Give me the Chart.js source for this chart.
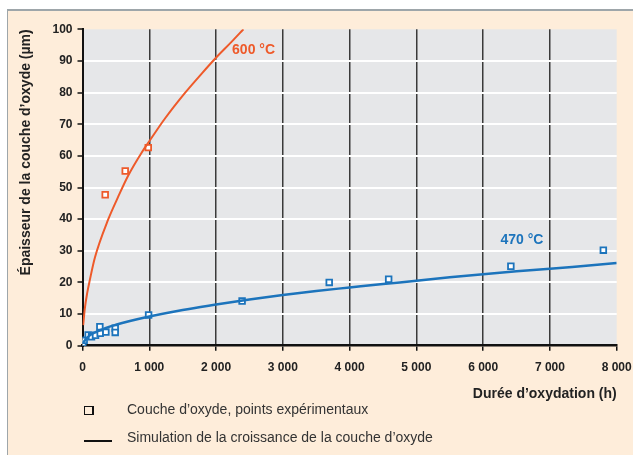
<!DOCTYPE html>
<html>
<head>
<meta charset="utf-8">
<script src="https://cdn.jsdelivr.net/npm/chart.js@4"></script>
<style>
  html, body { margin: 0; padding: 0; background: #ffffff; width: 633px; height: 455px; overflow: hidden; }
  #frame { position: absolute; left: 7px; top: 9px; right: 0; bottom: 0; background: #FEEDDA;
           border-left: 1px solid #9EA6AA; border-top: 2px solid #9EA6AA; }
  #c { position: absolute; left: 0; top: 0; }
  .lg { position: absolute; font-family: "Liberation Sans", Arial, sans-serif; font-size: 14px; color: #333; white-space: nowrap; }
  .sq { position: absolute; left: 84px; top: 406px; width: 7px; height: 7px; border: 1.5px solid #111; border-right-width: 2.5px; box-sizing: content-box; }
  .ln { position: absolute; left: 84px; top: 440px; width: 28px; height: 2px; background: #111; }
</style>
</head>
<body>
<div id="frame"></div>
<canvas id="c" width="633" height="455"></canvas>
<div class="sq"></div>
<div class="lg" style="left:127px; top:401px;">Couche d’oxyde, points expérimentaux</div>
<div class="ln"></div>
<div class="lg" style="left:127px; top:429px;">Simulation de la croissance de la couche d’oxyde</div>
<script>
// ---- Data ----
const xTickValues = [0, 1000, 2000, 3000, 4000, 5000, 6000, 7000, 8000];
const xTickLabels = ['0', '1 000', '2 000', '3 000', '4 000', '5 000', '6 000', '7 000', '8 000'];
const yTickValues = [0, 10, 20, 30, 40, 50, 60, 70, 80, 90, 100];

// 600 °C experimental points
const exp600T = [340, 640, 985];
const exp600E = [47.7, 55.2, 62.6];
// 600 °C simulated curve
const sim600T = [10, 35, 70, 110, 185, 385, 535, 685, 885, 1000, 1235, 1535, 1785, 1985, 2235, 2410];
const sim600E = [6.5, 11.8, 16.6, 20.8, 27.8, 39.9, 47.1, 53.8, 61.0, 64.6, 71.8, 79.9, 86.0, 90.7, 96.1, 100];

// 470 °C experimental points
const exp470T = [5, 25, 85, 135, 195, 260, 265, 350, 490, 490, 990, 2390, 3695, 4585, 6415, 7800];
const exp470E = [0.8, 1.7, 3.4, 2.8, 3.3, 6.0, 3.9, 4.3, 5.5, 4.2, 9.7, 14.1, 20.0, 21.0, 25.1, 30.2];
// 470 °C simulated curve
const sim470T = [0, 100, 250, 500, 1000, 1500, 2000, 2500, 3000, 3500, 4000, 4500, 5000, 5500, 6000, 6500, 7000, 7500, 8000];
const sim470E = [0.8, 3.1, 4.8, 6.6, 9.2, 11.3, 13.0, 14.6, 16.0, 17.3, 18.4, 19.5, 20.5, 21.6, 22.6, 23.5, 24.3, 25.2, 26.1];

// Series labels and their anchor (data coordinates)
const seriesNames = ['600 °C', '470 °C'];
const seriesLabelAt = [[2240, 93.5], [6260, 33.4]];

const xTitle = 'Durée d’oxydation (h)';
const yTitle = 'Épaisseur de la couche d’oxyde (µm)';

const ORANGE = '#EE5A2A';
const BLUE = '#1C74BC';

const pts = (xs, ys) => xs.map((x, i) => ({ x: x, y: ys[i] }));

const plotBg = {
  id: 'plotBg',
  beforeDraw(chart) {
    const { ctx, chartArea: a } = chart;
    ctx.save();
    ctx.fillStyle = '#E6E7E9';
    ctx.fillRect(a.left, a.top, a.right - a.left, a.bottom - a.top);
    ctx.restore();
  }
};

const seriesLabels = {
  id: 'seriesLabels',
  afterDatasetsDraw(chart) {
    const { ctx, scales } = chart;
    const colors = [ORANGE, BLUE];
    ctx.save();
    ctx.font = 'bold 14px "Liberation Sans", Arial, sans-serif';
    ctx.textAlign = 'left';
    ctx.textBaseline = 'middle';
    seriesNames.forEach((n, i) => {
      ctx.fillStyle = colors[i];
      ctx.fillText(n, scales.x.getPixelForValue(seriesLabelAt[i][0]), scales.y.getPixelForValue(seriesLabelAt[i][1]));
    });
    ctx.restore();
  }
};

const tickFont = { family: '"Liberation Sans", Arial, sans-serif', size: 12, weight: 'bold' };

new Chart(document.getElementById('c'), {
  type: 'scatter',
  data: {
    datasets: [
      { type: 'line', data: pts(sim600T, sim600E), borderColor: ORANGE, borderWidth: 2, pointRadius: 0, cubicInterpolationMode: 'monotone', fill: false },
      { type: 'line', data: pts(sim470T, sim470E), borderColor: BLUE, borderWidth: 2.5, pointRadius: 0, cubicInterpolationMode: 'monotone', fill: false },
      { data: pts(exp600T, exp600E), pointStyle: 'rect', pointRadius: 4, borderColor: ORANGE, borderWidth: 1.8, backgroundColor: '#ffffff' },
      { data: pts(exp470T, exp470E), pointStyle: 'rect', pointRadius: 4, borderColor: BLUE, borderWidth: 1.8, backgroundColor: '#ffffff' }
    ]
  },
  options: {
    responsive: false,
    devicePixelRatio: 1,
    animation: false,
    layout: { padding: { left: 18, right: 16.3, top: 29.3, bottom: 52 } },
    plugins: { legend: { display: false }, tooltip: { enabled: false } },
    scales: {
      x: {
        type: 'linear', min: 0, max: 8000,
        afterBuildTicks: s => { s.ticks = xTickValues.map(v => ({ value: v })); },
        afterFit: s => { s.height = 57.3; s.paddingLeft = 0; s.paddingRight = 0; },
        ticks: { font: tickFont, color: '#222', padding: 10, maxRotation: 0, autoSkip: false,
                 callback: v => xTickLabels[xTickValues.indexOf(v)] },
        grid: { color: c => (c.tick && (c.tick.value === 8000 || c.tick.value === 0)) ? 'rgba(0,0,0,0)' : '#3a3a3a',
                lineWidth: 1.5, tickColor: '#111', tickLength: 5, tickWidth: 1.5 },
        border: { color: '#111', width: 2.5 },
        title: { display: true, text: xTitle, align: 'end', color: '#222', padding: 0,
                 font: { family: '"Liberation Sans", Arial, sans-serif', size: 14, weight: 'bold' } }
      },
      y: {
        type: 'linear', min: 0, max: 100,
        afterBuildTicks: s => { s.ticks = yTickValues.map(v => ({ value: v })); },
        afterFit: s => { s.width = 64.5; s.paddingTop = 0; s.paddingBottom = 0; },
        ticks: { font: tickFont, color: '#222', padding: 5 },
        grid: { color: c => (c.tick && (c.tick.value === 100 || c.tick.value === 0)) ? 'rgba(0,0,0,0)' : '#ffffff',
                lineWidth: 2, tickColor: '#111', tickLength: 5, tickWidth: 1.5 },
        border: { color: '#111', width: 2 },
        title: { display: true, text: yTitle, align: 'end', color: '#222', padding: 0,
                 font: { family: '"Liberation Sans", Arial, sans-serif', size: 14, weight: 'bold' } }
      }
    }
  },
  plugins: [plotBg, seriesLabels]
});
</script>
</body>
</html>
